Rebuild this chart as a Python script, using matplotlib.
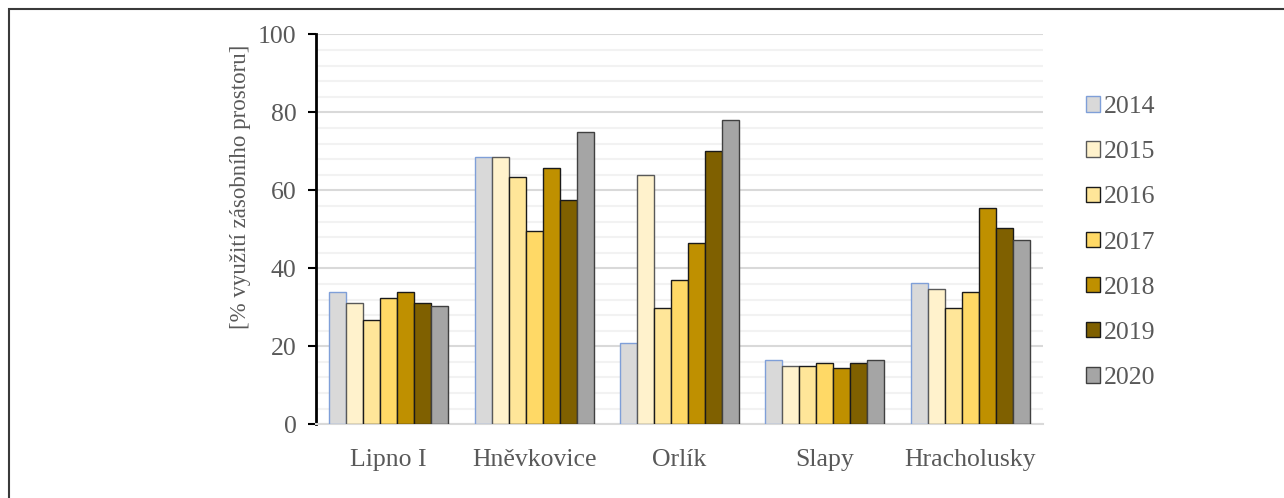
import matplotlib
matplotlib.use("Agg")
import matplotlib.pyplot as plt
from matplotlib.patches import Rectangle
from matplotlib.ticker import MultipleLocator
import numpy as np

plt.rcParams['font.family'] = ['Liberation Serif', 'DejaVu Serif']

reservoirs = ["Lipno I", "Hněvkovice", "Orlík", "Slapy", "Hracholusky"]
years = ["2014", "2015", "2016", "2017", "2018", "2019", "2020"]

v2014 = [33.9, 68.5, 20.9, 16.6, 36.3]
v2015 = [31.1, 68.5, 64.0, 15.0, 34.8]
v2016 = [26.7, 63.4, 29.7, 15.0, 29.7]
v2017 = [32.5, 49.5, 37.0, 15.8, 34.0]
v2018 = [33.9, 65.6, 46.6, 14.4, 55.4]
v2019 = [31.1, 57.5, 70.0, 15.8, 50.3]
v2020 = [30.3, 75.0, 77.9, 16.6, 47.3]
series = [v2014, v2015, v2016, v2017, v2018, v2019, v2020]

fill_colors = ["#D9D9D9", "#FFF2CC", "#FFE699", "#FFD966", "#BF9000", "#7F6000", "#A5A5A5"]
edge_colors = ["#7F9FD8", "#595959", "#1a1a1a", "#1a1a1a", "#1a1a1a", "#1a1a1a", "#404040"]

text_gray = "#595959"

fig = plt.figure(figsize=(12.84, 4.98), dpi=100)
ax = fig.add_axes([0.2461, 0.148, 0.5662, 0.7831])

x = np.arange(len(reservoirs))
width = 0.117
for i, (vals, fc, ec, yr) in enumerate(zip(series, fill_colors, edge_colors, years)):
    ax.bar(x + (i - 3) * width, vals, width, color=fc, edgecolor=ec,
           linewidth=1.0, label=yr, zorder=3)

ax.set_xlim(-0.5, len(reservoirs) - 0.5)
ax.set_ylim(0, 100)
ax.yaxis.set_major_locator(MultipleLocator(20))
ax.yaxis.set_minor_locator(MultipleLocator(4))
ax.grid(axis='y', which='major', color='#D9D9D9', linewidth=1.5, zorder=0)
ax.grid(axis='y', which='minor', color='#F2F2F2', linewidth=1.5, zorder=0)
ax.set_axisbelow(True)

ax.set_xticks(x)
ax.set_xticklabels(reservoirs)
ax.tick_params(axis='x', length=0, pad=18, labelsize=18.5, labelcolor=text_gray)
ax.tick_params(axis='y', which='major', direction='out', length=6, width=1.5,
               color='black', labelsize=18.5, labelcolor=text_gray, pad=8)
ax.tick_params(axis='y', which='minor', length=0)

for s in ['top', 'right']:
    ax.spines[s].set_visible(False)
ax.spines['left'].set_color('black')
ax.spines['left'].set_linewidth(2)
ax.spines['bottom'].set_color('#D9D9D9')
ax.spines['bottom'].set_linewidth(1.5)

ax.set_ylabel("[% využití zásobního prostoru]", fontsize=16.5, color=text_gray)
ax.yaxis.set_label_coords(-0.09, 0.61)

leg = fig.legend(loc='center left', bbox_to_anchor=(0.838, 0.513), frameon=False,
                 fontsize=18.5, handlelength=0.55, handleheight=0.55,
                 handletextpad=0.12, labelspacing=0.9, borderaxespad=0)
for t in leg.get_texts():
    t.set_color(text_gray)

# frame around the figure
fig.patches.append(Rectangle((9 / 1284, -0.1), 1.2, (498 - 9) / 498 + 0.1 - 0.001,
                             transform=fig.transFigure, fill=False,
                             edgecolor='#3a3a3a', linewidth=1.5))

fig.savefig("out.png", dpi=100)
